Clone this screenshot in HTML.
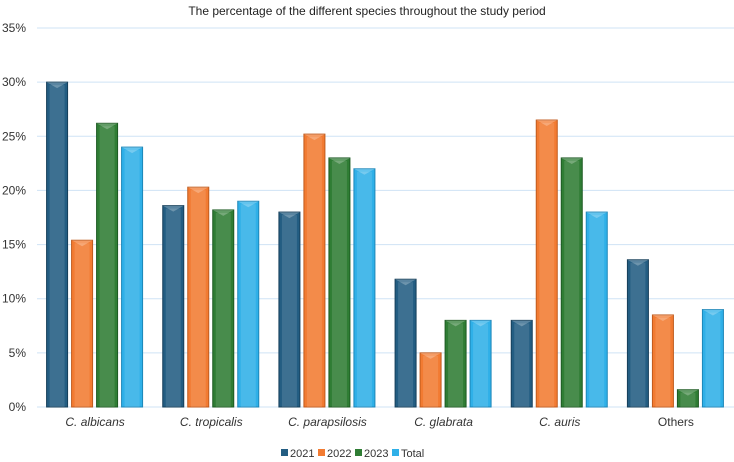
<!DOCTYPE html>
<html><head><meta charset="utf-8"><style>
body{margin:0;background:#fff;}
svg{display:block;font-family:"Liberation Sans","DejaVu Sans",sans-serif;}
</style></head><body>
<svg id="c" width="734" height="462">
<text x="367" y="15" text-anchor="middle" font-size="12" fill="#222">The percentage of the different species throughout the study period</text>
<g id="grid"></g><g id="bars"></g><g id="labels"></g><g id="legend"></g>
</svg>
<script>
const categories=["C. albicans","C. tropicalis","C. parapsilosis","C. glabrata","C. auris","Others"];
const s2021=[30,18.6,18,11.8,8,13.6];
const s2022=[15.4,20.3,25.2,5,26.5,8.5];
const s2023=[26.2,18.2,23,8,23,1.6];
const sTotal=[24,19,22,8,18,9];
const seriesNames=["2021","2022","2023","Total"];
const yTicks=[0,5,10,15,20,25,30,35];
const tickLabels=["0%","5%","10%","15%","20%","25%","30%","35%"];
const series=[s2021,s2022,s2023,sTotal];
const colors=["#235d82","#f27b32","#2f7d34","#2fb0e8"];
const dark=["#163f5a","#c05a1c","#1d5a22","#1c86b8"];
const NS="http://www.w3.org/2000/svg";
const L=37,R=734,T=28,B=407;
const y=v=>B-(v/35)*(B-T);
const gw=(R-L)/categories.length;
function mk(t,a,p){const e=document.createElementNS(NS,t);for(const k in a)e.setAttribute(k,a[k]);p.appendChild(e);return e;}
const grid=document.getElementById('grid'),bars=document.getElementById('bars'),labs=document.getElementById('labels'),leg=document.getElementById('legend');
yTicks.forEach((t,i)=>{
 const l=mk('line',{x1:L,x2:R,y1:y(t),y2:y(t),stroke:'#cfe3f5','stroke-width':1},grid);
 
 
 const tx=mk('text',{x:26,y:y(t)+4,'text-anchor':'end','font-size':12,fill:'#333'},grid);
 tx.textContent=tickLabels[i];
 
 
});
categories.forEach((c,ci)=>{
 const cx=L+gw*(ci+0.5);
 series.forEach((s,si)=>{
  const x=cx-48.5+si*25, w=21, top=y(s[ci]), h=B-top;
  const g=mk('g',{},bars);
  
  
  mk('rect',{x:x,y:top,width:w,height:h,fill:colors[si],stroke:dark[si],'stroke-width':1},g);
  mk('rect',{x:x+3,y:top+3,width:w-6,height:Math.max(0,h-3),fill:'#ffffff','fill-opacity':0.12},g);
  mk('polygon',{points:`${x},${top} ${x+w},${top} ${x+w/2},${top+6}`,fill:'#ffffff','fill-opacity':0.25},g);
 });
 const t=mk('text',{x:cx,y:426,'text-anchor':'middle','font-size':12,'font-style':c==='Others'?'normal':'italic',fill:'#333'},labs);
 t.textContent=c;
 
 
});
const lx=[281,318,355,392];
seriesNames.forEach((n,i)=>{
 const g=mk('g',{},leg);
 
 
 mk('rect',{x:lx[i],y:449,width:7,height:7,fill:colors[i]},g);
 const t=mk('text',{x:lx[i]+9,y:457,'font-size':11,fill:'#333'},g);
 t.textContent=n;
});
</script>
</body></html>
